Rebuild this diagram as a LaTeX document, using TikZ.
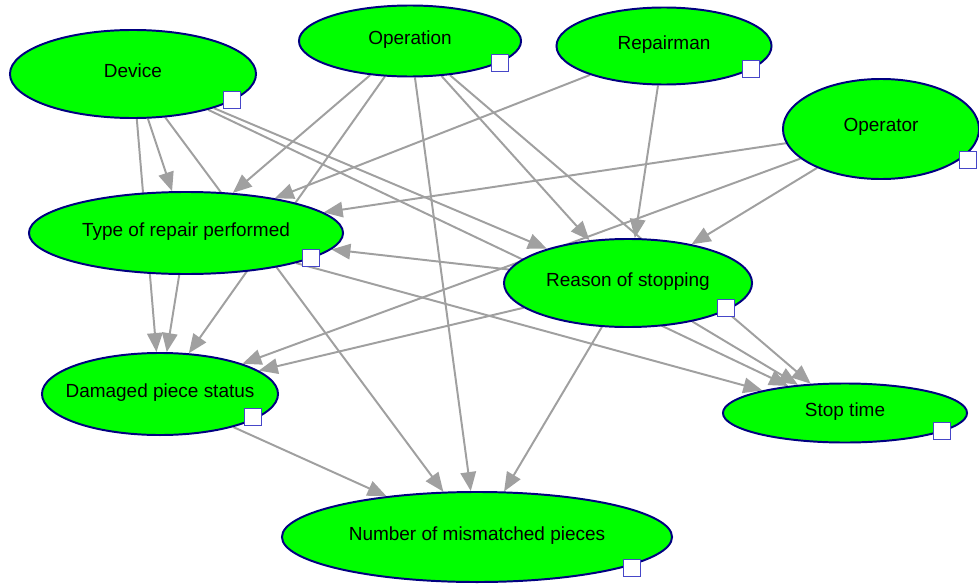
\documentclass[tikz,border=0pt]{standalone}
\usepackage{fontspec}
\setmainfont{Liberation Sans}
\usepackage{tikz}
\usetikzlibrary{arrows.meta,shapes.geometric,backgrounds}
\definecolor{nodegreen}{RGB}{0,255,0}
\definecolor{nodeedge}{RGB}{0,0,128}
\definecolor{boxedge}{RGB}{70,70,200}
\definecolor{linkgray}{RGB}{160,160,160}

\begin{document}
\begin{tikzpicture}[x=0.025cm, y=-0.025cm,
  varnode/.style={ellipse, draw=nodeedge, line width=1.4pt, fill=nodegreen, inner sep=0pt,
    text depth=5.5pt, font=\fontsize{13.5}{16}\selectfont},
  statebox/.style={rectangle, draw=boxedge, line width=0.7pt, fill=white, inner sep=0pt,
    minimum size=0.425cm},
  link/.style={draw=linkgray, line width=1.4pt, -{Triangle[length=13.5pt, width=11pt]}}]
\useasboundingbox (0, 0) rectangle (979, 585);
% variables
\node[varnode, minimum width=6.15cm, minimum height=2.2cm] (device) at (133, 74) {Device};
\node[varnode, minimum width=5.55cm, minimum height=1.775cm] (operation) at (410, 41) {Operation};
\node[varnode, minimum width=5.375cm, minimum height=1.925cm] (repairman) at (664, 46) {Repairman};
\node[varnode, minimum width=4.9cm, minimum height=2.5cm] (operator) at (881, 129) {Operator};
\node[varnode, minimum width=7.85cm, minimum height=2.05cm, inner xsep=-4pt] (repair) at (186, 233) {Type of repair performed};
\node[varnode, minimum width=6.2cm, minimum height=2.2cm] (reason) at (628, 283) {Reason of stopping};
\node[varnode, minimum width=5.9cm, minimum height=2.05cm, inner xsep=-9pt] (damaged) at (160, 394) {Damaged piece status};
\node[varnode, minimum width=6.1cm, minimum height=1.475cm] (stoptime) at (845, 413) {Stop time};
\node[varnode, minimum width=9.75cm, minimum height=2.25cm] (mismatch) at (477, 537) {Number of mismatched pieces};
% state boxes
\node[statebox] (device-box) at (232, 100) {};
\node[statebox] (operation-box) at (500, 63) {};
\node[statebox] (repairman-box) at (751, 69) {};
\node[statebox] (operator-box) at (968, 160) {};
\node[statebox] (repair-box) at (311, 258) {};
\node[statebox] (reason-box) at (726, 308) {};
\node[statebox] (damaged-box) at (253, 417) {};
\node[statebox] (stoptime-box) at (942, 431) {};
\node[statebox] (mismatch-box) at (632, 568) {};
% links
\begin{scope}[on background layer]
\draw[link] (device) -- (repair);
\draw[link] (device) -- (damaged);
\draw[link] (device) -- (mismatch);
\draw[link] (device) -- (reason);
\draw[link] (device) -- (stoptime);
\draw[link] (operation) -- (repair);
\draw[link] (operation) -- (damaged);
\draw[link] (operation) -- (mismatch);
\draw[link] (operation) -- (reason);
\draw[link] (operation) -- (stoptime);
\draw[link] (repairman) -- (repair);
\draw[link] (repairman) -- (reason);
\draw[link] (operator) -- (repair);
\draw[link] (operator) -- (damaged);
\draw[link] (operator) -- (reason);
\draw[link] (repair) -- (damaged);
\draw[link] (repair) -- (stoptime);
\draw[link] (reason) -- (repair);
\draw[link] (reason) -- (damaged);
\draw[link] (reason) -- (mismatch);
\draw[link] (reason) -- (stoptime);
\draw[link] (damaged) -- (mismatch);
\end{scope}
\end{tikzpicture}
\end{document}
